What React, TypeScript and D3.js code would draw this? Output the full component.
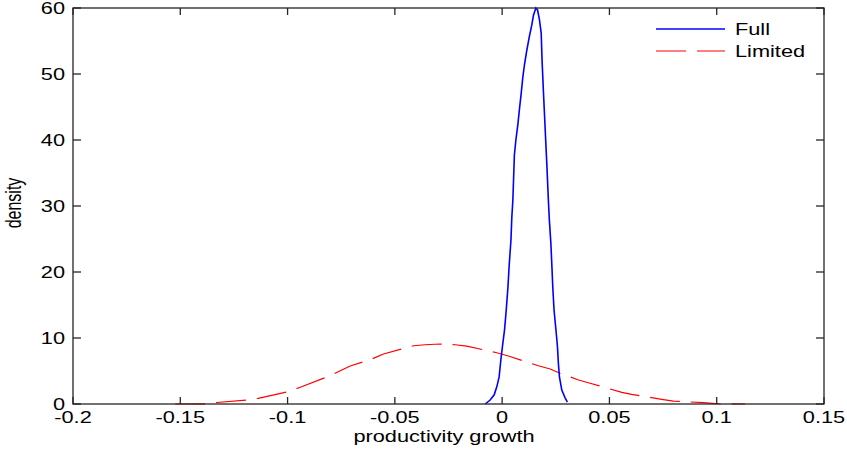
import React from "react";
import * as d3 from "d3";

const xTicks = [-0.2, -0.15, -0.1, -0.05, 0, 0.05, 0.1, 0.15];
const xTickLabels = ["-0.2", "-0.15", "-0.1", "-0.05", "0", "0.05", "0.1", "0.15"];
const yTicks = [0, 10, 20, 30, 40, 50, 60];

const fullX = [-0.0079, -0.0056, -0.0037, -0.0025, -0.0014, -0.0006, 0.0001, 0.0011, 0.0019, 0.0027, 0.0033, 0.0041, 0.0045, 0.005, 0.0057, 0.0064, 0.0073, 0.0081, 0.0089, 0.0096, 0.0104, 0.0115, 0.0127, 0.0138, 0.0146, 0.0157, 0.0165, 0.0174, 0.0182, 0.0186, 0.0192, 0.02, 0.0208, 0.0216, 0.022, 0.0227, 0.0232, 0.0236, 0.0242, 0.0252, 0.0258, 0.0262, 0.0267, 0.0278, 0.0294, 0.0304];
const fullY = [0, 0.6, 1.4, 2.6, 4.1, 6.7, 8.6, 11.2, 14.2, 17.7, 21.1, 24.8, 28.2, 30.9, 37.7, 40.0, 42.3, 44.8, 47.1, 49.4, 51.4, 53.6, 55.7, 57.4, 58.9, 60.0, 59.7, 58.2, 56.2, 52.1, 47.6, 42.0, 36.5, 30.5, 27.9, 24.4, 20.8, 17.7, 14.2, 10.8, 8.6, 6.2, 4.1, 2.1, 0.9, 0.3];

const limitedX = [-0.1524, -0.1384, -0.133, -0.119, -0.1137, -0.0997, -0.0941, -0.0802, -0.0747, -0.0708, -0.0607, -0.0553, -0.0413, -0.0359, -0.0289, -0.0219, -0.0165, -0.0025, 0.0029, 0.0169, 0.0224, 0.027, 0.0356, 0.041, 0.0558, 0.0604, 0.0744, 0.0798, 0.0938, 0.0993, 0.1133];
const limitedY = [0, 0.03, 0.23, 0.6, 0.86, 1.86, 2.53, 4.29, 5.15, 5.76, 6.82, 7.58, 8.83, 8.98, 9.09, 8.98, 8.76, 7.77, 7.27, 5.8, 5.3, 4.65, 3.64, 3.14, 1.77, 1.47, 0.71, 0.45, 0.2, 0.05, 0];

const seriesNames = ["Full", "Limited"];

export default function App() {
  const W = 847, H = 455;
  const left = 73, right = 824, top = 8, bottom = 404;
  const x = d3.scaleLinear().domain([-0.2, 0.15]).range([left, right]);
  const y = d3.scaleLinear().domain([0, 60]).range([bottom, top]);
  const line = d3.line<[number, number]>().x(d => x(d[0])).y(d => y(d[1]));
  const fullPts = fullX.map((v, i) => [v, fullY[i]] as [number, number]);
  const limPts = limitedX.map((v, i) => [v, limitedY[i]] as [number, number]);
  const font = "'Liberation Sans', Arial, sans-serif";
  const sx = 1.36;
  const axisColor = "#262626";
  const tl = 7;

  return (
    <svg width={W} height={H} style={{ position: "absolute", left: 0, top: 0, background: "#fff" }}>
      <rect x={0} y={0} width={W} height={H} fill="#fff" />
      <path d={line(limPts) || ""} fill="none" stroke="#ff0000" strokeWidth={1.2} strokeDasharray="30 11" />
      <path d={line(fullPts) || ""} fill="none" stroke="#0000ff" strokeWidth={1.6} />
      <rect x={left} y={top} width={right - left} height={bottom - top} fill="none" stroke={axisColor} strokeWidth={1.3} />
      {xTicks.map((t, i) => (
        <g key={"xt" + i}>
          <line x1={x(t)} x2={x(t)} y1={bottom} y2={bottom - tl} stroke={axisColor} strokeWidth={1.3} />
          <line x1={x(t)} x2={x(t)} y1={top} y2={top + tl} stroke={axisColor} strokeWidth={1.3} />
          <text transform={`translate(${x(t)},423) scale(${sx},1)`} textAnchor="middle" fontFamily={font} fontSize={16} fill="#000">
            {xTickLabels[i]}
          </text>
        </g>
      ))}
      {yTicks.map((t, i) => (
        <g key={"yt" + i}>
          <line x1={left} x2={left + tl + 1} y1={y(t)} y2={y(t)} stroke={axisColor} strokeWidth={1.3} />
          <line x1={right} x2={right - tl - 1} y1={y(t)} y2={y(t)} stroke={axisColor} strokeWidth={1.3} />
          <text transform={`translate(65,${y(t) + 6}) scale(${sx},1)`} textAnchor="end" fontFamily={font} fontSize={16} fill="#000">
            {String(t)}
          </text>
        </g>
      ))}
      <text transform={`translate(444,442) scale(${sx},1)`} textAnchor="middle" fontFamily={font} fontSize={16} fill="#000">
        productivity growth
      </text>
      <text transform={`translate(21,203) scale(${sx},1) rotate(-90)`} textAnchor="middle" fontFamily={font} fontSize={16} fill="#000">
        density
      </text>
      <line x1={656} x2={725} y1={29} y2={29} stroke="#0000ff" strokeWidth={1.6} />
      <line x1={656} x2={725} y1={51} y2={51} stroke="#ff0000" strokeWidth={1.2} strokeDasharray="30 11" />
      <text transform={`translate(735,35) scale(${sx},1)`} fontFamily={font} fontSize={16} fill="#000">{seriesNames[0]}</text>
      <text transform={`translate(735,57) scale(${sx},1)`} fontFamily={font} fontSize={16} fill="#000">{seriesNames[1]}</text>
    </svg>
  );
}
